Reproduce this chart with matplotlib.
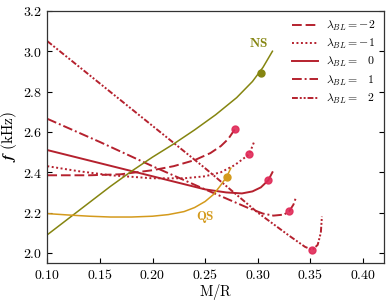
import numpy as np
import matplotlib
matplotlib.use('Agg')
import matplotlib.pyplot as plt
from matplotlib.ticker import FuncFormatter

plt.rcParams['mathtext.fontset'] = 'cm'
plt.rcParams['font.family'] = 'serif'
plt.rcParams['font.serif'] = ['DejaVu Serif']

# f-mode frequency vs compactness
x_m2 = [0.10, 0.14, 0.17, 0.20, 0.22, 0.24, 0.255, 0.265, 0.272, 0.2785]
f_m2 = [2.385, 2.385, 2.39, 2.41, 2.43, 2.46, 2.495, 2.53, 2.565, 2.615]

x_m1 = [0.10, 0.13, 0.16, 0.20, 0.23, 0.25, 0.265, 0.278, 0.287, 0.292, 0.2965]
f_m1 = [2.43, 2.405, 2.385, 2.37, 2.37, 2.38, 2.40, 2.435, 2.47, 2.49, 2.55]

x_0 = [0.10, 0.15, 0.20, 0.25, 0.27, 0.285, 0.295, 0.303, 0.310, 0.314]
f_0 = [2.51, 2.445, 2.38, 2.315, 2.30, 2.295, 2.305, 2.325, 2.36, 2.40]

x_p1 = [0.10, 0.15, 0.20, 0.25, 0.29, 0.305, 0.315, 0.325, 0.330, 0.334, 0.336]
f_p1 = [2.665, 2.55, 2.43, 2.315, 2.225, 2.195, 2.185, 2.19, 2.207, 2.24, 2.27]

x_p2 = [0.10, 0.15, 0.20, 0.25, 0.30, 0.33, 0.345, 0.352, 0.357, 0.360, 0.361]
f_p2 = [3.05, 2.84, 2.63, 2.42, 2.20, 2.085, 2.03, 2.015, 2.04, 2.10, 2.18]

# marker positions (end of stable branch)
mx = [0.2785, 0.292, 0.310, 0.330, 0.3515]
mf = [2.615, 2.49, 2.36, 2.207, 2.015]

x_ns = [0.10, 0.12, 0.14, 0.16, 0.18, 0.20, 0.22, 0.24, 0.26, 0.28, 0.295, 0.305, 0.314]
f_ns = [2.09, 2.17, 2.25, 2.33, 2.405, 2.475, 2.54, 2.61, 2.685, 2.77, 2.85, 2.92, 3.0]
ns_mark = (0.303, 2.89)

x_qs = [0.10, 0.12, 0.14, 0.16, 0.18, 0.20, 0.215, 0.23, 0.24, 0.25, 0.258, 0.264, 0.2706, 0.2744]
f_qs = [2.195, 2.188, 2.182, 2.178, 2.178, 2.182, 2.19, 2.205, 2.225, 2.255, 2.29, 2.33, 2.378, 2.42]
qs_mark = (0.2706, 2.378)

red = '#b5212e'
pink = '#e02a58'
olive = '#858510'
gold = '#d49a1c'

styles = [(0, (5, 2)), (0, (1, 1.3)), '-', (0, (5, 1.5, 1, 1.5)), (0, (3, 1, 1, 1, 1, 1))]
labels = [r'$\boldsymbol{\lambda_{BL} = -2}$',
          r'$\boldsymbol{\lambda_{BL} = -1}$',
          r'$\boldsymbol{\lambda_{BL} =\ \ \,0}$',
          r'$\boldsymbol{\lambda_{BL} =\ \ \,1}$',
          r'$\boldsymbol{\lambda_{BL} =\ \ \,2}$']

fig = plt.figure(figsize=(3.91, 3.03), dpi=100)
ax = fig.add_axes([0.121, 0.132, 0.861, 0.832])

xs = [x_m2, x_m1, x_0, x_p1, x_p2]
fs = [f_m2, f_m1, f_0, f_p1, f_p2]
for i in range(5):
    ax.plot(xs[i], fs[i], color=red, lw=1.4, ls=styles[i], label=labels[i])
ax.plot(mx, mf, 'o', color=pink, ms=5, alpha=0.9, zorder=5)

ax.plot(x_ns, f_ns, color=olive, lw=1.1)
ax.plot(ns_mark[0], ns_mark[1], 'o', color=olive, ms=5)
ax.plot(x_qs, f_qs, color=gold, lw=1.1)
ax.plot(qs_mark[0], qs_mark[1], 'o', color=gold, ms=5)

ax.text(0.3005, 3.04, r'$\mathbf{NS}$', color=olive, fontsize=9.5, ha='center', va='center')
ax.text(0.250, 2.18, r'$\mathbf{QS}$', color=gold, fontsize=9.5, ha='center', va='center')

ax.set_xlim(0.10, 0.42)
ax.set_ylim(1.95, 3.2)
ax.set_xticks([0.10, 0.15, 0.20, 0.25, 0.30, 0.35, 0.40])
ax.set_yticks([2.0, 2.2, 2.4, 2.6, 2.8, 3.0, 3.2])
ax.xaxis.set_major_formatter(FuncFormatter(lambda v, p: r'$\mathbf{%.2f}$' % v))
ax.yaxis.set_major_formatter(FuncFormatter(lambda v, p: r'$\mathbf{%.1f}$' % v))
ax.tick_params(direction='in', right=True, length=3.5, width=0.8, labelsize=10)
for s in ax.spines.values():
    s.set_linewidth(0.9)
    s.set_color('#333333')

ax.set_xlabel(r'$\mathrm{M/R}$', fontsize=10.5, labelpad=0)
ax.set_ylabel(r'$\boldsymbol{f}\ (\mathrm{kHz})$', fontsize=11, labelpad=3)

ax.legend(loc='upper right', frameon=False, fontsize=8.5, handlelength=2.2,
          handletextpad=0.7, labelspacing=0.35, borderaxespad=0.3)

plt.savefig('out.png', dpi=100)
